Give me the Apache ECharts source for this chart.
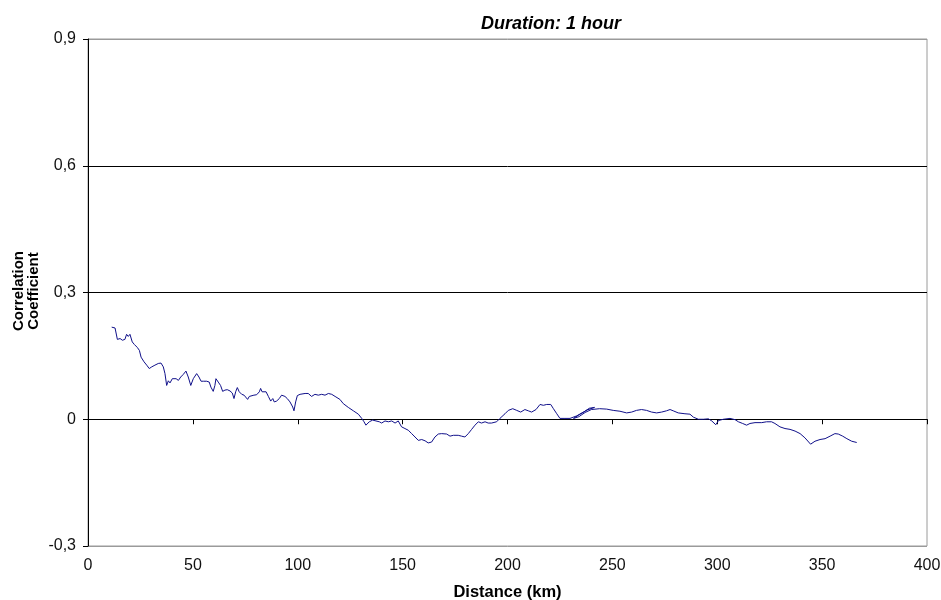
<!DOCTYPE html>
<html>
<head>
<meta charset="utf-8">
<title>Duration: 1 hour</title>
<script src="https://cdn.jsdelivr.net/npm/echarts@6/dist/echarts.min.js"></script>
<style>
  html, body { margin: 0; padding: 0; background: #fff; }
  #chart { width: 941px; height: 600px; }
</style>
</head>
<body>
<div id="chart"></div>
<script>
// Correlation coefficient vs. station distance, 1-hour duration
const chartTitle = 'Duration: 1 hour';
const xAxisTitle = 'Distance (km)';
const yAxisTitle = 'Correlation\nCoefficient';

const xTicks = [0, 50, 100, 150, 200, 250, 300, 350, 400];
const yTicks = [-0.3, 0, 0.3, 0.6, 0.9];

const distanceKm = [
  11.3, 12.9, 14.0, 15.3, 16.4, 17.6, 18.4, 19.2, 20.0, 21.1,
  22.1, 23.5, 24.5, 25.3, 26.7, 28.0, 29.2, 30.4, 31.9, 33.5,
  34.8, 35.9, 36.7, 37.5, 38.3, 39.1, 40.2, 41.0, 42.0, 43.1,
  44.2, 45.4, 46.7, 47.8, 49.0, 50.2, 51.8, 52.9, 53.9, 55.0,
  56.6, 57.8, 58.6, 59.7, 60.5, 61.0, 62.1, 63.2, 64.2, 65.3,
  66.4, 67.7, 68.8, 69.6, 70.4, 71.2, 72.1, 73.3, 74.4, 75.3,
  76.1, 76.9, 77.7, 79.1, 80.4, 81.7, 82.3, 83.0, 83.9, 84.9,
  86.0, 87.1, 88.1, 88.8, 89.9, 91.2, 92.3, 93.1, 93.9, 95.0,
  96.3, 97.6, 98.2, 99.0, 99.8, 101.1, 103.5, 105.0, 106.6, 108.2,
  109.8, 111.4, 113.0, 114.6, 116.2, 117.8, 120.1, 121.7, 124.1, 126.5,
  128.9, 130.5, 131.6, 132.5, 134.1, 135.7, 137.3, 138.9, 140.0, 141.6,
  143.2, 144.8, 146.4, 147.9, 149.5, 151.1, 152.7, 154.3, 155.9, 157.5,
  159.1, 160.7, 162.2, 163.8, 165.4, 167.0, 168.6, 171.0, 172.6, 174.2,
  176.5, 178.1, 179.7, 181.3, 182.9, 184.5, 186.1, 187.6, 189.3, 190.8,
  192.4, 194.8, 196.4, 198.8, 200.4, 202.5, 204.4, 206.3, 208.3, 209.9,
  211.5, 213.6, 215.5, 217.1, 218.7, 220.6, 221.9, 223.5, 225.0, 227.4,
  229.8, 233.0, 236.0, 239.0, 241.5, 238.0, 234.5, 231.5, 234.0, 237.0,
  240.0, 243.9, 247.3, 250.4, 253.6, 256.8, 259.2, 261.5, 263.9, 266.3,
  268.7, 271.1, 273.5, 275.8, 277.5, 279.0, 281.4, 284.6, 287.0, 288.6,
  291.0, 293.4, 295.8, 297.4, 299.3, 300.6, 302.9, 306.1, 308.5, 310.1,
  312.1, 314.0, 315.6, 318.0, 321.2, 323.5, 325.9, 327.5, 329.9, 332.3,
  334.7, 337.1, 339.5, 341.8, 344.5, 346.6, 349.0, 351.4, 353.8, 356.1,
  357.7, 359.8, 361.8, 364.1, 366.5
];

const correlation = [
  0.218, 0.216, 0.189, 0.191, 0.187, 0.189, 0.201, 0.196, 0.201, 0.183,
  0.177, 0.170, 0.163, 0.147, 0.136, 0.128, 0.120, 0.124, 0.128, 0.132,
  0.133, 0.124, 0.108, 0.080, 0.091, 0.086, 0.096, 0.092, 0.096, 0.092,
  0.100, 0.106, 0.114, 0.100, 0.080, 0.096, 0.108, 0.100, 0.090, 0.090,
  0.090, 0.088, 0.076, 0.066, 0.080, 0.096, 0.088, 0.080, 0.066, 0.069,
  0.070, 0.067, 0.062, 0.049, 0.065, 0.075, 0.065, 0.059, 0.057, 0.053,
  0.047, 0.054, 0.057, 0.057, 0.058, 0.065, 0.073, 0.065, 0.069, 0.065,
  0.054, 0.043, 0.049, 0.041, 0.043, 0.049, 0.057, 0.061, 0.054, 0.049,
  0.041, 0.029, 0.020, 0.041, 0.056, 0.059, 0.061, 0.061, 0.054, 0.059,
  0.057, 0.059, 0.057, 0.061, 0.059, 0.054, 0.047, 0.037, 0.028, 0.020,
  0.012, 0.002, -0.006, -0.014, -0.006, -0.002, -0.004, -0.006, -0.009, -0.004,
  -0.006, -0.004, -0.009, -0.004, -0.018, -0.022, -0.026, -0.034, -0.042, -0.050,
  -0.048, -0.051, -0.056, -0.054, -0.042, -0.035, -0.034, -0.035, -0.040, -0.038,
  -0.038, -0.040, -0.042, -0.034, -0.024, -0.014, -0.006, -0.009, -0.006, -0.009,
  -0.009, -0.006, 0.002, 0.013, 0.021, 0.025, 0.021, 0.017, 0.023, 0.020,
  0.017, 0.023, 0.035, 0.033, 0.035, 0.035, 0.025, 0.013, 0.002, 0.002,
  0.002, 0.008, 0.016, 0.026, 0.028, 0.022, 0.012, 0.002, 0.006, 0.016,
  0.023, 0.025, 0.024, 0.021, 0.019, 0.015, 0.017, 0.021, 0.023, 0.021,
  0.017, 0.015, 0.017, 0.020, 0.023, 0.020, 0.015, 0.013, 0.012, 0.005,
  0.000, 0.000, 0.001, -0.004, -0.013, -0.003, 0.000, 0.002, -0.001, -0.006,
  -0.010, -0.014, -0.010, -0.008, -0.008, -0.006, -0.006, -0.010, -0.018, -0.022,
  -0.024, -0.028, -0.034, -0.044, -0.059, -0.052, -0.048, -0.046, -0.040, -0.034,
  -0.035, -0.040, -0.046, -0.052, -0.055
];

const FONT = '"Liberation Sans", Arial, sans-serif';
const points = distanceKm.map((d, i) => [d, correlation[i]]);
const fmtComma = v => String(Math.round(v * 10) / 10).replace('.', ',');

const chart = echarts.init(document.getElementById('chart'), null, { renderer: 'canvas' });
chart.setOption({
  animation: false,
  backgroundColor: '#ffffff',
  title: {
    text: chartTitle,
    left: 546, top: 10, textAlign: 'center',
    textStyle: { fontFamily: FONT, fontSize: 18, fontWeight: 'bold', fontStyle: 'italic', color: '#000' }
  },
  grid: {
    left: 88, right: 14, top: 39, bottom: 54,
    outerBoundsMode: 'none', containLabel: false,
    show: true, borderColor: '#9a9a9a', borderWidth: 1, backgroundColor: 'transparent'
  },
  xAxis: [
    {
      type: 'value', position: 'bottom',
      min: xTicks[0], max: xTicks[xTicks.length - 1], interval: xTicks[1] - xTicks[0],
      axisLine: { show: false, onZero: false },
      axisTick: { show: false },
      splitLine: { show: false },
      axisLabel: { margin: 12, fontFamily: FONT, fontSize: 16, color: '#111' },
      name: xAxisTitle, nameLocation: 'middle', nameGap: 38,
      nameTextStyle: { fontFamily: FONT, fontSize: 16.5, fontWeight: 'bold', color: '#000' }
    },
    {
      type: 'value', position: 'bottom',
      min: xTicks[0], max: xTicks[xTicks.length - 1], interval: xTicks[1] - xTicks[0],
      axisLine: { show: true, onZero: true, lineStyle: { color: '#000', width: 1 } },
      axisTick: { show: true, inside: false, length: 5, lineStyle: { color: '#000' } },
      axisLabel: { show: false },
      splitLine: { show: false }
    }
  ],
  yAxis: {
    type: 'value',
    min: yTicks[0], max: yTicks[yTicks.length - 1], interval: 0.3,
    axisLine: { show: true, onZero: false, lineStyle: { color: '#000', width: 1 } },
    axisTick: { show: true, inside: false, length: 5, lineStyle: { color: '#000' } },
    axisLabel: { margin: 12, formatter: fmtComma, fontFamily: FONT, fontSize: 16, color: '#111' },
    splitLine: { show: true, lineStyle: { color: ['#9a9a9a', '#000', '#000', '#000', '#9a9a9a'], width: 1 } }
  },
  graphic: [{
    type: 'text', x: 26, y: 291, rotation: Math.PI / 2,
    style: {
      text: yAxisTitle, align: 'center', verticalAlign: 'middle', lineHeight: 15,
      font: 'bold 15px ' + FONT, fill: '#000'
    }
  }],
  series: [{
    type: 'line', xAxisIndex: 0, data: points,
    showSymbol: false, symbol: 'none',
    lineStyle: { color: '#10108a', width: 1 },
    z: 5
  }]
});
</script>
</body>
</html>
